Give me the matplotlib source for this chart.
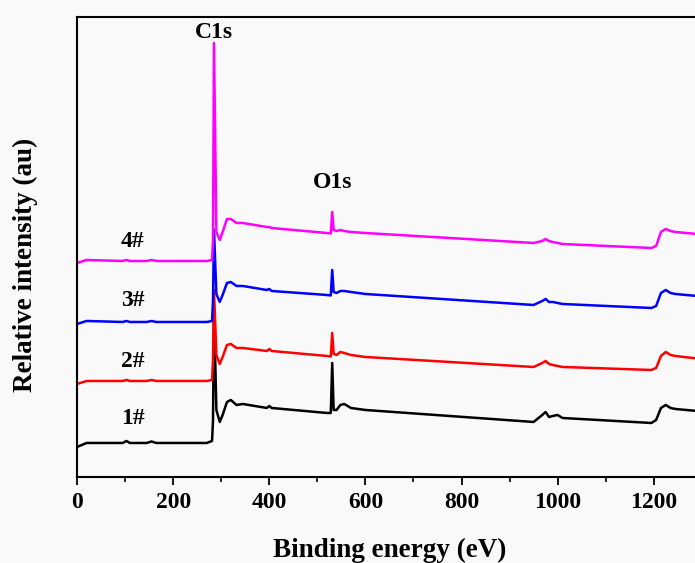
import matplotlib.pyplot as plt
from matplotlib.ticker import MultipleLocator

# binding energy anchor points (eV)
energy = [0, 20, 95, 103, 110, 145, 155, 165, 270, 281, 283, 285, 290, 297, 303,
          312, 320, 332, 345, 395, 400, 405, 520, 528, 531, 534, 540, 548, 556,
          570, 600, 950, 968, 975, 982, 990, 1000, 1010, 1195, 1205, 1215, 1225,
          1235, 1245, 1290]

# relative intensity (au), stacked
s1 = [30, 34, 34, 36, 34, 34, 35.5, 34, 34, 36, 57, 170, 67, 55, 62,
      75, 77, 72, 73, 69, 71, 69, 64, 64, 114, 67, 67, 72, 73,
      69, 67, 55, 62, 65, 60, 61, 62, 59, 54, 57, 69, 72,
      69, 68, 66]
s2 = [93, 96, 96, 97, 96, 96, 97, 96, 96, 97, 117, 187, 122, 113, 120,
      132, 133, 129, 129, 126, 128, 126, 121, 120.5, 144, 123, 122, 125, 124,
      122, 120, 110, 114, 116, 113, 112, 111, 110, 107, 109, 121, 125,
      122, 121, 118.5]
s3 = [153, 156, 155, 156, 155, 155, 156, 155, 155, 156, 177, 247, 183, 175, 182,
      194, 195, 191, 191, 187, 188, 186, 182, 181.5, 207, 185, 184, 186, 186,
      185, 183, 172, 176, 178, 175, 175, 174, 173, 169, 171, 184, 187,
      184, 183, 181]
s4 = [214, 217, 216, 217, 216, 216, 217, 216, 216, 217, 237, 434, 245, 237, 245,
      258, 258, 254, 254, 250, 250, 249, 244, 243.5, 265, 247, 246, 247, 246,
      245, 244, 234, 236, 238, 236, 235, 234, 233, 229, 231, 245, 248,
      246, 245, 243]

names = ['1#', '2#', '3#', '4#']
colors = ['black', 'red', 'blue', 'magenta']

plt.rcParams['font.family'] = ['Liberation Serif', 'DejaVu Serif']
plt.rcParams['font.weight'] = 'bold'

fig = plt.figure(figsize=(6.95, 5.63), dpi=100, facecolor='#f9f9f9')
ax = fig.add_axes([0.1108, 0.1528, 0.899, 0.817])
ax.set_facecolor('#f9f9f9')

for s, c in zip([s1, s2, s3, s4], colors):
    ax.plot(energy, s, color=c, lw=1.8)

ax.set_xlim(0, 1300)
ax.set_ylim(0, 460)

# sample labels
label_y = [58, 115, 176, 235]
for n, y in zip(names, label_y):
    ax.text(116, y, n, fontsize=17, fontweight='bold', ha='center', va='center')
ax.text(285, 445, 'C1s', fontsize=17, fontweight='bold', ha='center', va='center')
ax.text(532, 294, 'O1s', fontsize=17, fontweight='bold', ha='center', va='center')

ax.xaxis.set_major_locator(MultipleLocator(200))
ax.xaxis.set_minor_locator(MultipleLocator(100))
ax.tick_params(axis='x', which='major', direction='out', length=6, width=1.3,
               labelsize=17, pad=5)
ax.tick_params(axis='x', which='minor', direction='out', length=3.5, width=1.2)
ax.set_yticks([])
for lbl in ax.get_xticklabels():
    lbl.set_fontweight('bold')
for sp in ax.spines.values():
    sp.set_linewidth(1.5)

ax.set_xlabel('Binding energy (eV)', fontsize=19.5, fontweight='bold')
ax.set_ylabel('Relative intensity (au)', fontsize=19.5, fontweight='bold')
ax.xaxis.set_label_coords(0.5, -0.133)
ax.yaxis.set_label_coords(-0.062, 0.461)

fig.savefig('out.png', dpi=100, facecolor=fig.get_facecolor())
